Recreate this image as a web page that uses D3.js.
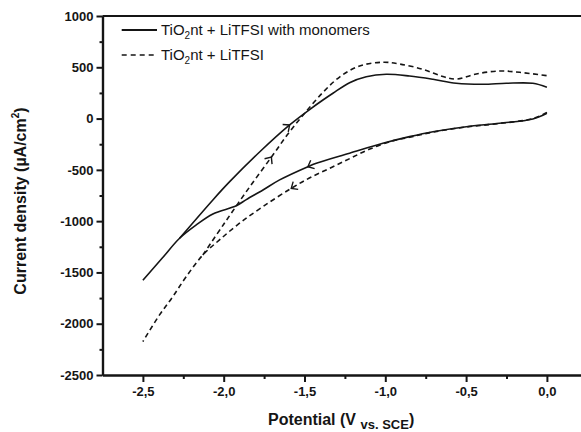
<!DOCTYPE html>
<html><head><meta charset="utf-8">
<script src="https://cdn.jsdelivr.net/npm/d3@7"></script>
<style>body{margin:0;background:#fff} svg{display:block;font-family:"Liberation Sans",Arial,sans-serif}</style>
</head><body>
<svg id="chart" width="581" height="432"></svg>
<script>
// ---------- data ----------
const xMajorTicks = [-2.5, -2.0, -1.5, -1.0, -0.5, 0.0];
const xTickLabels = ["-2,5", "-2,0", "-1,5", "-1,0", "-0,5", "0,0"];
const xMinorTicks = [-2.25, -1.75, -1.25, -0.75, -0.25];
const yMajorTicks = [1000, 500, 0, -500, -1000, -1500, -2000, -2500];
const yMinorTicks = [750, 250, -250, -750, -1250, -1750, -2250];

// TiO2nt + LiTFSI with monomers (solid): forward sweep 0 -> -2.5 V
const monoFwdV = [0, -0.087, -0.293, -0.499, -0.705, -0.85, -1.015, -1.221, -1.427, -1.479, -1.654, -1.757, -1.86, -1.922, -2.067, -2.17, -2.273, -2.38, -2.5];
const monoFwdI = [52, -4, -46, -79, -128, -176, -241, -338, -436, -469, -598, -696, -790, -850, -930, -1037, -1167, -1360, -1577];
// return sweep -2.5 -> 0 V
const monoRetV = [-2.5, -2.38, -2.273, -2.067, -1.963, -1.778, -1.592, -1.458, -1.386, -1.324, -1.221, -1.118, -0.994, -0.85, -0.705, -0.561, -0.396, -0.251, -0.087, 0];
const monoRetI = [-1577, -1360, -1167, -793, -615, -326, -62, 100, 181, 247, 350, 408, 432, 415, 383, 344, 334, 344, 344, 305];

// TiO2nt + LiTFSI (dashed): forward sweep 0 -> -2.5 V
const litFwdV = [0, -0.087, -0.293, -0.499, -0.705, -0.85, -0.95, -1.1, -1.22, -1.345, -1.47, -1.582, -1.757, -1.902, -2.026, -2.129, -2.232, -2.315, -2.397, -2.5];
const litFwdI = [60, 0, -48, -82, -132, -182, -215, -300, -390, -485, -580, -680, -858, -1020, -1183, -1330, -1541, -1736, -1914, -2174];
// return sweep -2.5 -> 0 V
const litRetV = [-2.5, -2.397, -2.315, -2.232, -2.129, -2.0, -1.85, -1.7, -1.6, -1.5, -1.386, -1.283, -1.159, -1.015, -0.912, -0.767, -0.644, -0.561, -0.437, -0.293, -0.169, 0];
const litRetI = [-2174, -1914, -1736, -1541, -1330, -1030, -690, -365, -145, 50, 255, 405, 513, 549, 532, 480, 410, 385, 435, 464, 451, 418];

// scan-direction arrows: which series/branch and potential
const arrowSeries = ["mono", "mono", "lit", "lit"];
const arrowBranch = ["ret", "fwd", "ret", "fwd"];
const arrowV = [-1.592, -1.479, -1.705, -1.582];

const legendMain = ["TiO", "TiO"];
const legendRest = ["nt + LiTFSI with monomers", "nt + LiTFSI"];

// ---------- chart ----------
const svg = d3.select("#chart");
const x = d3.scaleLinear().domain([-2.75, 0.25]).range([102.5, 587.3]);
const y = d3.scaleLinear().domain([-2500, 1000]).range([375, 16]);
const ink = "#151515";
const FONT = "'Liberation Sans', Arial, sans-serif";

const zip = (V, I) => V.map((v, i) => [v, I[i]]);
const branches = {
  mono: { fwd: zip(monoFwdV, monoFwdI), ret: zip(monoRetV, monoRetI), dash: null },
  lit: { fwd: zip(litFwdV, litFwdI), ret: zip(litRetV, litRetI), dash: "5,3.5" }
};

const line = d3.line().x(d => x(d[0])).y(d => y(d[1])).curve(d3.curveCatmullRom.alpha(0.5));

// axes
const gx = svg.append("g").attr("transform", `translate(0,${y(-2500)})`);
gx.call(d3.axisBottom(x).tickValues(xMinorTicks).tickSize(4).tickFormat("").tickSizeOuter(0));
const gx2 = svg.append("g").attr("transform", `translate(0,${y(-2500)})`);
gx2.call(d3.axisBottom(x).tickValues(xMajorTicks).tickSize(7).tickPadding(5)
  .tickFormat((d, i) => xTickLabels[i]).tickSizeOuter(0));
const gy = svg.append("g").attr("transform", `translate(${x(-2.75)},0)`);
gy.call(d3.axisLeft(y).tickValues(yMinorTicks).tickSize(3).tickFormat("").tickSizeOuter(0));
const gy2 = svg.append("g").attr("transform", `translate(${x(-2.75)},0)`);
gy2.call(d3.axisLeft(y).tickValues(yMajorTicks).tickSize(6).tickPadding(3)
  .tickFormat(d3.format("d")).tickSizeOuter(0));

svg.selectAll(".domain").attr("stroke", ink).attr("stroke-width", 2.2);
svg.selectAll(".tick line").attr("stroke", ink).attr("stroke-width", 2);
svg.selectAll(".tick text").attr("fill", ink).attr("font-size", 13).attr("font-weight", "bold")
  .attr("font-family", FONT);
gy2.selectAll(".tick text").text(d => d < 0 ? "-" + Math.abs(d) : String(d));

// frame top
svg.append("line").attr("x1", x(-2.75)).attr("x2", x(0.25)).attr("y1", y(1000)).attr("y2", y(1000))
  .attr("stroke", ink).attr("stroke-width", 2.2);

// curves (the start of each return sweep retraces the forward sweep; stroke the shared part once)
const gCurves = svg.append("g");
for (const key of ["mono", "lit"]) {
  const b = branches[key];
  const fwdSet = new Set(b.fwd.map(p => p.join(",")));
  let shared = 0;
  while (shared < b.ret.length && fwdSet.has(b.ret[shared].join(","))) shared++;
  const retDraw = b.ret.slice(Math.max(shared - 1, 0));
  for (const pts of [b.fwd, retDraw]) {
    gCurves.append("path").datum(pts).attr("d", line)
      .attr("fill", "none").attr("stroke", ink).attr("stroke-width", 1.6)
      .attr("stroke-dasharray", b.dash);
  }
}

// arrows
function interp(pts, v) {
  for (let i = 0; i < pts.length - 1; i++) {
    const a = pts[i], b = pts[i + 1];
    if ((v - a[0]) * (v - b[0]) <= 0) {
      const t = (v - a[0]) / (b[0] - a[0]);
      return a[1] + t * (b[1] - a[1]);
    }
  }
  return pts[pts.length - 1][1];
}
arrowV.forEach((v, k) => {
  const pts = branches[arrowSeries[k]][arrowBranch[k]];
  const dir = arrowBranch[k] === "ret" ? 1 : -1;
  const px = x(v), py = y(interp(pts, v));
  const v2 = v + dir * 0.03;
  const qx = x(v2), qy = y(interp(pts, v2));
  const ang = Math.atan2(qy - py, qx - px);
  const L = 7, spread = 0.72;
  const p1 = [px - L * Math.cos(ang - spread), py - L * Math.sin(ang - spread)];
  const p2 = [px - L * Math.cos(ang + spread), py - L * Math.sin(ang + spread)];
  svg.append("path").attr("d", `M${p1[0]},${p1[1]}L${px},${py}L${p2[0]},${p2[1]}`)
    .attr("fill", "none").attr("stroke", ink).attr("stroke-width", 1.4);
});

// legend
const legY = [30, 55];
const legDash = [null, "5,4"];
legY.forEach((ly, i) => {
  svg.append("line").attr("x1", 121.7).attr("x2", 157).attr("y1", ly).attr("y2", ly)
    .attr("stroke", ink).attr("stroke-width", i === 0 ? 2 : 1.6).attr("stroke-dasharray", legDash[i]);
  const t = svg.append("text").attr("x", 161).attr("y", ly + 5).attr("font-size", 15)
    .attr("font-family", FONT).attr("fill", ink);
  t.append("tspan").text(legendMain[i]);
  t.append("tspan").attr("font-size", 10).attr("dy", 4).text("2");
  t.append("tspan").attr("dy", -4).text(legendRest[i]);
});

// axis titles
const xt = svg.append("text").attr("x", 268).attr("y", 425).attr("font-size", 16)
  .attr("font-family", FONT).attr("font-weight", "bold").attr("fill", ink);
xt.append("tspan").text("Potential (V ");
xt.append("tspan").attr("font-size", 13).attr("dy", 4).text("vs. SCE");
xt.append("tspan").attr("dy", -4).text(")");

const yt = svg.append("text").attr("transform", "translate(26,201) rotate(-90)")
  .attr("text-anchor", "middle").attr("font-size", 16).attr("font-family", FONT)
  .attr("font-weight", "bold").attr("fill", ink);
yt.append("tspan").text("Current density (\u00B5A/cm");
yt.append("tspan").attr("font-size", 10).attr("dy", -7).text("2");
yt.append("tspan").attr("dy", 7).text(")");
</script>
</body></html>
